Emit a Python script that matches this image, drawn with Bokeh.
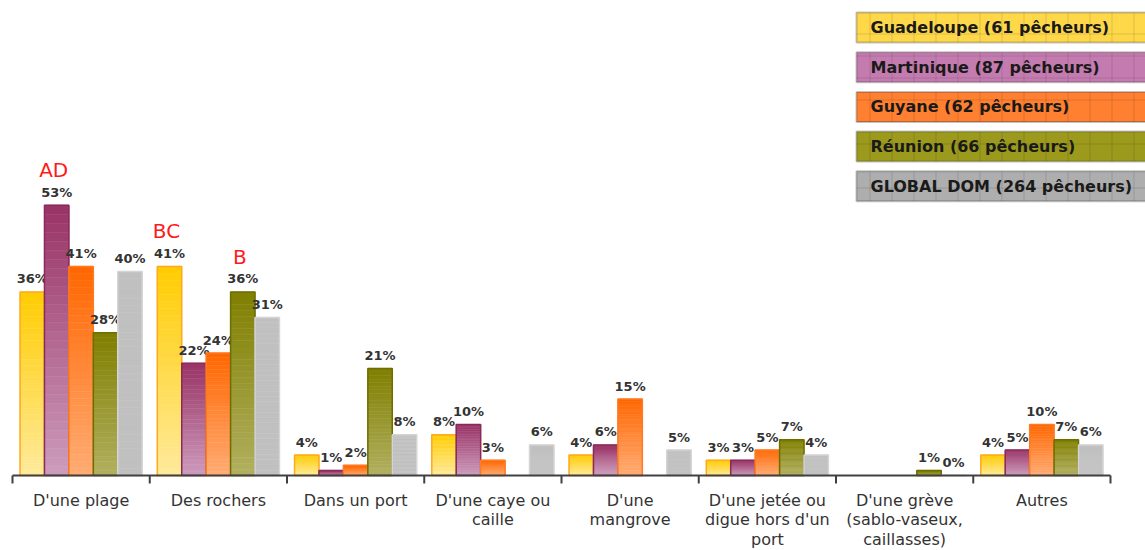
import numpy as np
from bokeh.plotting import figure
from bokeh.models import Range1d, BoxAnnotation, Label
from bokeh.core.properties import value
from bokeh.embed import file_html
from bokeh.resources import INLINE

# ---------------- data ----------------
categories = ["D'une plage", "Des rochers", "Dans un port", "D'une caye ou\ncaille",
              "D'une\nmangrove", "D'une jetée ou\ndigue hors d'un\nport",
              "D'une grève\n(sablo-vaseux,\ncaillasses)", "Autres"]
series = ["Guadeloupe (61 pêcheurs)", "Martinique (87 pêcheurs)", "Guyane (62 pêcheurs)",
          "Réunion (66 pêcheurs)", "GLOBAL DOM (264 pêcheurs)"]
guadeloupe = [36, 41, 4, 8, 4, 3, None, 4]
martinique = [53, 22, 1, 10, 6, 3, None, 5]
guyane = [41, 24, 2, 3, 15, 5, None, 10]
reunion = [28, 36, 21, None, None, 7, 1, 7]
global_dom = [40, 31, 8, 6, 5, 4, 0, 6]
# significance letters: (text, category index, series index)
annotations = [("AD", 0, 1), ("BC", 1, 0), ("B", 1, 3)]

# ---------------- styles ----------------
top_colors = ["#FFCC00", "#993366", "#FF6600", "#7F7F00", "#C0C0C0"]
bottom_colors = ["#FFEA9C", "#CD9CBC", "#FFAC74", "#B2B060", "#C0C0C0"]
edge_colors = ["#FFA820", "#8A2A5A", "#FF7A20", "#6E6E00", "#D4D4D4"]
legend_colors = ["#FFD84A", "#C47CB0", "#FF8030", "#9C9A1C", "#AEAEAE"]
values = [guadeloupe, martinique, guyane, reunion, global_dom]

W, H = 1145, 550
AX_LEFT_PX = 12        # x pixel of the start of the category axis
BASE_PX = 475          # y pixel of the baseline
cat_px = 137.25        # pixel width of one category slot
px_per_pct = 5.1
n = len(categories)
bar_w = 0.178

def px_x(px):
    return (px - AX_LEFT_PX) / cat_px

def px_y(py):
    return (BASE_PX - py) / px_per_pct

def hex2rgb(h):
    h = h.lstrip("#")
    return np.array([int(h[i:i + 2], 16) for i in (0, 2, 4)], dtype=float)

def rgb2hex(c):
    return "#%02x%02x%02x" % tuple(int(round(v)) for v in c)

p = figure(width=W, height=H, output_backend="svg", toolbar_location=None,
           x_range=Range1d(px_x(0), px_x(W)), y_range=Range1d(px_y(H), px_y(0)),
           x_axis_type=None, y_axis_type=None,
           min_border_left=0, min_border_right=0, min_border_top=0, min_border_bottom=0)
p.outline_line_color = None
p.xgrid.visible = False
p.ygrid.visible = False
p.background_fill_color = "white"

NS = 30
for s, vals in enumerate(values):
    offset = (s - 2) * bar_w
    ct, cb = hex2rgb(top_colors[s]), hex2rgb(bottom_colors[s])
    L, R, B, T, C = [], [], [], [], []
    ol, orr, ot = [], [], []
    lx, ly, lt = [], [], []
    for i, v in enumerate(vals):
        if v is None:
            continue
        xc = i + 0.5 + offset
        for k in range(NS):
            f0, f1 = k / NS, (k + 1) / NS
            L.append(xc - bar_w / 2); R.append(xc + bar_w / 2)
            B.append(v * f0); T.append(v * f1)
            t = (k + 0.5) / NS
            C.append(rgb2hex(cb + (ct - cb) * t))
        ol.append(xc - bar_w / 2); orr.append(xc + bar_w / 2); ot.append(v)
        lx.append(xc); ly.append(v); lt.append(f"{v}%")
    p.quad(left=L, right=R, bottom=B, top=T, fill_color=C, line_color=C, line_width=0.5)
    p.quad(left=ol, right=orr, bottom=[0] * len(ol), top=ot, fill_color=None,
           line_color=edge_colors[s], line_width=1.5)
    p.text(x=lx, y=ly, text=lt, text_align="center", text_baseline="alphabetic",
           y_offset=-13, text_font=value("DejaVu Sans"), text_font_style="bold",
           text_font_size="13px", text_color="#333333")

# significance letters
ax_, ay_, at_ = [], [], []
for txt, ci, si in annotations:
    ax_.append(ci + 0.5 + (si - 2) * bar_w)
    ay_.append(values[si][ci])
    at_.append(txt)
p.text(x=ax_, y=ay_, text=at_, text_align="center", text_baseline="alphabetic",
       x_offset=-3, y_offset=-35, text_font=value("DejaVu Sans"),
       text_font_size="20px", text_color="#FF1A1A")

# category axis: baseline, boundary ticks, labels
bounds = list(range(n + 1))
p.segment(x0=[0], x1=[n], y0=[0], y1=[0], line_color="#404040", line_width=2)
p.segment(x0=bounds, x1=bounds, y0=[0] * len(bounds), y1=[px_y(BASE_PX + 8)] * len(bounds),
          line_color="#404040", line_width=2)
p.text(x=[i + 0.5 for i in range(n)], y=[0] * n, text=categories,
       text_align="center", text_baseline="top", y_offset=15,
       text_font=value("DejaVu Sans"), text_font_size="16px",
       text_color="#333333", text_line_height=1.05)

# legend (boxes with text)
for s, name in enumerate(series):
    top_px = 12 + s * 39.7
    box = BoxAnnotation(left=px_x(856), right=px_x(W + 20), top=px_y(top_px), bottom=px_y(top_px + 30),
                        fill_color=legend_colors[s], fill_alpha=1.0,
                        line_color="#3a3a3a", line_width=2,
                        hatch_pattern="+", hatch_scale=22, hatch_color="#000000", hatch_alpha=0.12,
                        editable=False)
    p.add_layout(box)
    p.add_layout(Label(x=px_x(870), y=px_y(top_px + 15), text=name,
                       text_font="DejaVu Sans", text_font_style="bold",
                       text_font_size="16px", text_color="#1a1a1a",
                       text_baseline="middle", text_align="left"))

open("out.html", "w").write(file_html(p, INLINE))
